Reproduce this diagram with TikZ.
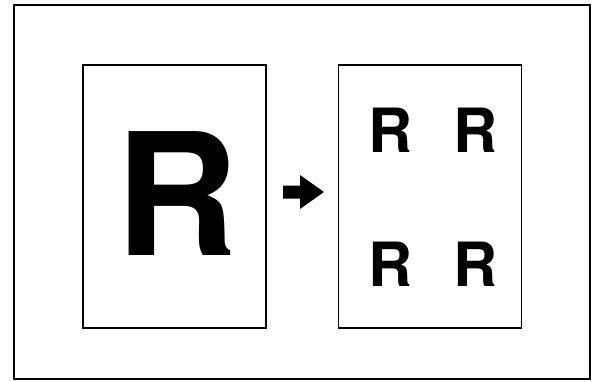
\documentclass[tikz,border=0pt]{standalone}
\usepackage{fontspec}
\setmainfont{TeX Gyre Heros}
\begin{document}
\begin{tikzpicture}[
	x=1pt, y=-1pt,
	frame/.style={draw, line width=1.7pt, inner sep=0pt},
	page/.style={frame, minimum width=183pt, minimum height=263pt},
	bigletter/.style={inner sep=0pt, font=\bfseries\fontsize{170}{170}\selectfont},
	smallletter/.style={inner sep=0pt, font=\bfseries\fontsize{61}{61}\selectfont}
	]
	\useasboundingbox (0,0) rectangle (597,381);
	\node[frame, minimum width=576pt, minimum height=374pt]  (outer) at (302, 192)  {};
	\node[page]  (before) at (174.5, 196.5)  {};
	\node[page]  (after) at (430, 196.5)  {};
	\node[bigletter]  (R0) at (177, 194)  {R};
	\node[smallletter]  (R1) at (391, 130)  {R};
	\node[smallletter]  (R2) at (476, 130)  {R};
	\node[smallletter]  (R3) at (391, 264)  {R};
	\node[smallletter]  (R4) at (476, 264)  {R};
	% arrow between the two pages
	\fill (283, 185.5) -- (300, 185.5) -- (300, 175) -- (324, 192)
		-- (300, 209) -- (300, 198.5) -- (283, 198.5) -- cycle;
\end{tikzpicture}
\end{document}
